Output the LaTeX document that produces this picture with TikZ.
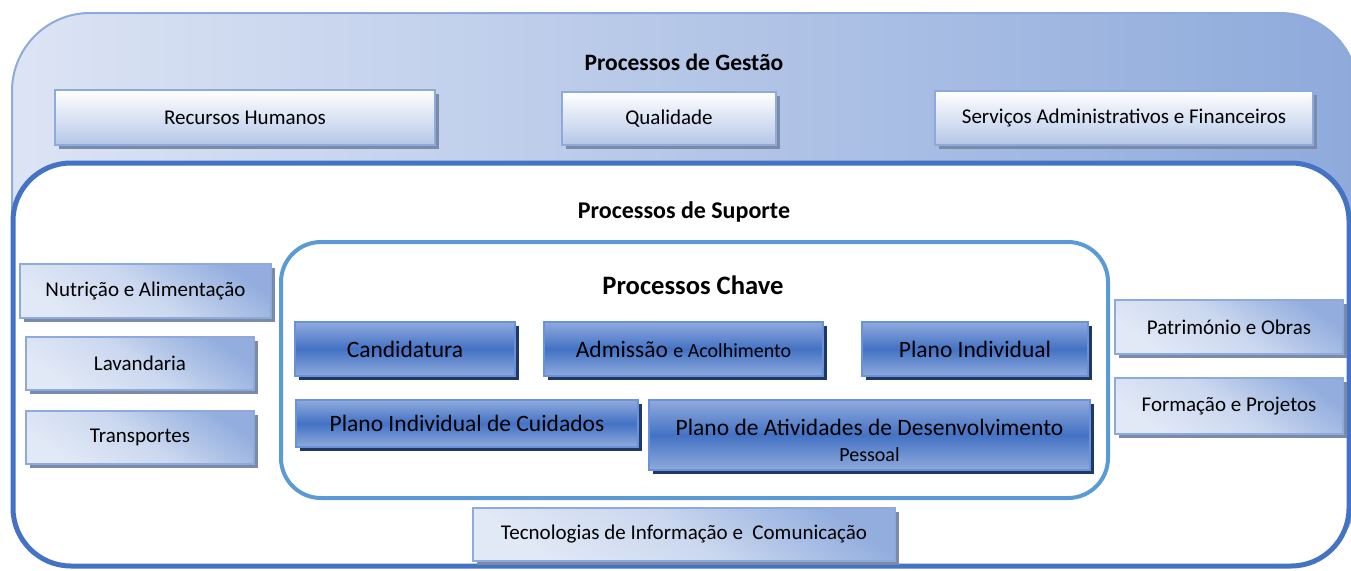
\documentclass[tikz,border=0pt]{standalone}
\usepackage{fontspec}
\setmainfont{Carlito}
\usetikzlibrary{shadows}
\definecolor{outerL}{HTML}{DCE4F4}
\definecolor{outerR}{HTML}{8EAADB}
\definecolor{outerB}{HTML}{8EAADB}
\definecolor{supB}{HTML}{4472C4}
\definecolor{keyB}{HTML}{5B9BD5}
\definecolor{lightB}{HTML}{8EAADB}
\definecolor{lightSh}{HTML}{7A8AA8}
\definecolor{blueMid}{HTML}{4472C4}
\definecolor{blueEdge}{HTML}{8FAADC}
\definecolor{blueB}{HTML}{6A92DA}
\definecolor{blueSh}{HTML}{1F3864}
\definecolor{sideDark}{HTML}{93AEDE}
\definecolor{sideLight}{HTML}{E2E9F6}
\definecolor{gesBot}{HTML}{B4C7E7}
\begin{document}
\begin{tikzpicture}[x=1pt,y=-1pt,
  txt/.style={font=\fontsize{21}{25}\selectfont, text=black},
  ttl/.style={font=\fontsize{24}{28}\selectfont\bfseries, text=black},
  box/.style={draw=lightB, line width=1.5pt, inner sep=0pt, anchor=center,
    drop shadow={shadow xshift=4pt, shadow yshift=-4pt, fill=lightSh, opacity=1}},
  gesbox/.style={box, top color=white, bottom color=gesBot},
  sidebox/.style={box, shading=axis, top color=sideDark, bottom color=sideLight, middle color=sideLight!70!sideDark, shading angle=-35},
  keybox/.style={draw=blueB, line width=1.5pt, inner sep=0pt, anchor=center,
    top color=blueEdge, bottom color=blueEdge, middle color=blueMid,
    font=\fontsize{23.5}{28}\selectfont, text=black,
    drop shadow={shadow xshift=4pt, shadow yshift=-4pt, fill=blueSh, opacity=1}}]
\useasboundingbox (0,0) rectangle (1351,570);
\begin{scope}
\clip (0,0) rectangle (1351,570);
% outer management area
\path[left color=outerL, right color=outerR, draw=outerB, line width=2pt, rounded corners=78pt]
  (12,13) rectangle (1358,566);
% support area
\path[fill=white, draw=supB, line width=5pt, rounded corners=58pt]
  (13,163) rectangle (1349,566);
\end{scope}
% key process area
\path[draw=keyB, line width=4pt, rounded corners=40pt]
  (281,242) rectangle (1108,498);

% titles
\node[ttl, font=\fontsize{23.5}{28}\selectfont\bfseries] (tg) at (684,62) {Processos de Gestão};
\node[ttl] (ts) at (684,212) {Processos de Suporte};
\node[ttl, font=\fontsize{26.6}{30}\selectfont\bfseries] (tc) at (693,285) {Processos Chave};

% management boxes
\node[gesbox, txt, minimum width=380pt, minimum height=55pt] (rh) at (245,117.5) {Recursos Humanos};
\node[gesbox, txt, minimum width=214pt, minimum height=53pt] (qu) at (669,118.5) {Qualidade};
\node[gesbox, txt, minimum width=378pt, minimum height=54pt] (sa) at (1124,118) {Serviços Administrativos e Financeiros};

% support boxes
\node[sidebox, txt, minimum width=251pt, minimum height=54pt] (nu) at (145.5,291) {Nutrição e Alimentação};
\node[sidebox, txt, minimum width=228pt, minimum height=53pt] (la) at (140,363.5) {Lavandaria};
\node[sidebox, txt, minimum width=228pt, minimum height=53pt] (tr) at (140,437.5) {Transportes};
\node[sidebox, txt, minimum width=228pt, minimum height=54pt] (po) at (1229,327) {Património e Obras};
\node[sidebox, txt, minimum width=228pt, minimum height=56pt] (fp) at (1229,406) {Formação e Projetos};
\node[sidebox, txt, minimum width=422pt, minimum height=53pt] (ti) at (684,534.5) {Tecnologias de Informação e\ \ Comunicação};

% key boxes
\node[keybox, minimum width=220pt, minimum height=54pt] (ca) at (405,349) {Candidatura};
\node[keybox, minimum width=279pt, minimum height=54pt] (ad) at (683.5,349) {Admissão {\fontsize{20}{24}\selectfont e Acolhimento}};
\node[keybox, minimum width=226pt, minimum height=54pt] (pi) at (975,349) {Plano Individual};
\node[keybox, minimum width=342pt, minimum height=47pt] (pc) at (467,423.5) {Plano Individual de Cuidados};
\node[keybox, minimum width=441pt, minimum height=70pt] (pa) at (869.5,435) {};
\node[font=\fontsize{23.5}{28}\selectfont, text=black, inner sep=0pt] (pa1) at (869.5,427) {Plano de Atividades de Desenvolvimento};
\node[font=\fontsize{20}{24}\selectfont, text=black, inner sep=0pt] (pa2) at (869.5,455) {Pessoal};
\end{tikzpicture}
\end{document}
